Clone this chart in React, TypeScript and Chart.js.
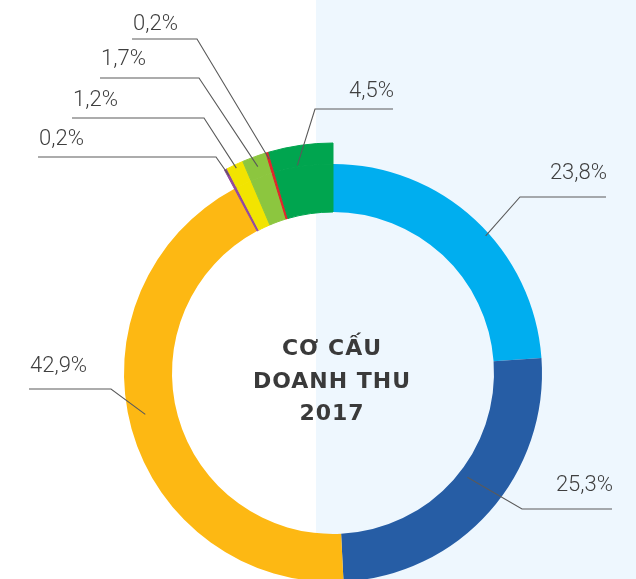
import { useEffect, useRef } from 'react';
import { Chart, registerables } from 'chart.js';

Chart.register(...registerables);

// ---- data ----
const categories = ['Mảng 1', 'Mảng 2', 'Mảng 3', 'Mảng 4', 'Mảng 5', 'Mảng 6', 'Mảng 7', 'Mảng 8'];
const values = [23.8, 25.3, 42.9, 0.2, 1.2, 1.7, 0.2, 4.5];
const colors = ['#00AEEF', '#265DA5', '#FDB813', '#92499E', '#F2E400', '#8CC63F', '#E1262B', '#00A54F'];
const raised = [false, false, false, true, true, true, true, true];
const centerTitle = ['CƠ CẤU', 'DOANH THU', '2017'];

// ---- label layout (annotation placement) ----
const labelSide = ['right', 'right', 'left', 'left', 'left', 'left', 'left', 'right'];
const labelElbowX = [520, 522, 111, 216, 204, 199, 197, 315];
const labelElbowY = [197, 509, 389, 157, 118, 78, 39, 109];
const labelEndX = [606, 612, 29, 38, 72, 100, 132, 393];
const labelGap = [18, 18, 17, 12, 12, 13, 9, 12];
const labelDepth = [0.92, 0.19, 0.65, 0.9, 0.95, 0.85, 0.9, 0.72];
const labelAlong = [0.56, 0.46, 0.52, 0.5, 0.5, 0.5, 0.5, 0.4];

const fmt = (v: number) => v.toFixed(1).replace('.', ',') + '%';

const labelPlugin = {
  id: 'leaderLabels',
  afterDraw(chart: any) {
    const ctx = chart.ctx;
    const innerMeta = chart.getDatasetMeta(1);
    const outerMeta = chart.getDatasetMeta(0);
    ctx.save();
    values.forEach((v, i) => {
      const arc = (raised[i] ? outerMeta : innerMeta).data[i];
      if (!arc) return;
      const p = arc.getProps(['x', 'y', 'startAngle', 'endAngle', 'innerRadius', 'outerRadius'], true);
      const a = p.startAngle + (p.endAngle - p.startAngle) * labelAlong[i];
      const ringIn = raised[i] ? innerMeta.data[i].getProps(['innerRadius'], true).innerRadius : p.innerRadius;
      const r = ringIn + (p.outerRadius - ringIn) * labelDepth[i];
      const sx = p.x + r * Math.cos(a);
      const sy = p.y + r * Math.sin(a);
      ctx.strokeStyle = '#5a5a5a';
      ctx.lineWidth = 1.1;
      ctx.beginPath();
      ctx.moveTo(sx, sy);
      ctx.lineTo(labelElbowX[i], labelElbowY[i]);
      ctx.lineTo(labelEndX[i], labelElbowY[i]);
      ctx.stroke();
      ctx.fillStyle = '#3f3f3f';
      ctx.font = '300 22px Roboto';
      ctx.textBaseline = 'alphabetic';
      ctx.textAlign = labelSide[i] === 'left' ? 'left' : 'right';
      ctx.fillText(fmt(v), labelEndX[i] + 1, labelElbowY[i] - labelGap[i]);
    });
    // center title
    const c = innerMeta.data[0].getProps(['x', 'y'], true);
    ctx.fillStyle = '#3a3a3a';
    ctx.font = 'bold 22px "DejaVu Sans"';
    ctx.textAlign = 'center';
    (ctx as any).letterSpacing = '1px';
    const offs = [-18, 15, 47];
    centerTitle.forEach((t, k) => ctx.fillText(t, c.x - 1, c.y + offs[k]));
    ctx.restore();
  },
};

export default function App() {
  const ref = useRef<HTMLCanvasElement>(null);
  useEffect(() => {
    if (!ref.current) return;
    const chart = new Chart(ref.current, {
      type: 'doughnut',
      data: {
        labels: categories,
        datasets: [
          {
            data: values,
            backgroundColor: colors.map((c, i) => (raised[i] ? c : 'rgba(0,0,0,0)')),
            borderColor: colors.map((c, i) => (raised[i] ? c : 'rgba(0,0,0,0)')),
            borderWidth: raised.map((r) => (r ? 1 : 0)),
            weight: 21,
          },
          {
            data: values,
            backgroundColor: colors,
            borderColor: colors,
            borderWidth: raised.map((r) => (r ? 1 : 0)),
            weight: 48,
          },
        ],
      },
      options: {
        responsive: false,
        animation: false,
        events: [],
        radius: 230,
        cutout: '70%',
        rotation: 0,
        layout: { padding: { left: 103, right: 73, top: 143, bottom: 0 } },
        plugins: { legend: { display: false }, tooltip: { enabled: false } },
      } as any,
      plugins: [labelPlugin],
    });
    return () => chart.destroy();
  }, []);
  return (
    <div
      style={{
        position: 'fixed',
        left: 0,
        top: 0,
        width: 636,
        height: 579,
        overflow: 'hidden',
        background: 'linear-gradient(to right, #ffffff 0px, #ffffff 316px, #eef7fe 316px, #eef7fe 636px)',
      }}
    >
      <canvas ref={ref} width={636} height={603} style={{ width: 636, height: 603, display: 'block' }} />
    </div>
  );
}
